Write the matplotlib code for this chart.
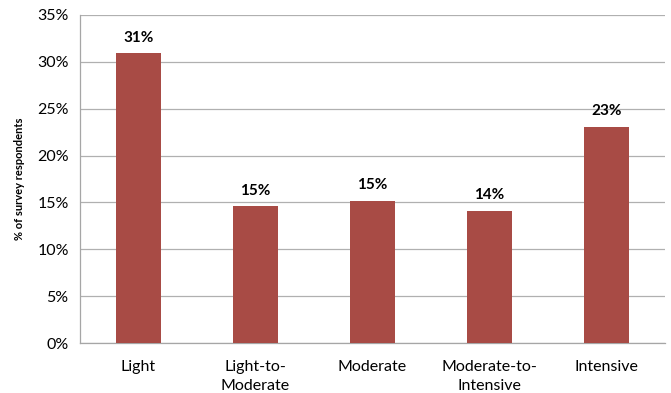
import matplotlib.pyplot as plt
from matplotlib.ticker import PercentFormatter

categories = ["Light", "Light-to-\nModerate", "Moderate", "Moderate-to-\nIntensive", "Intensive"]
shares = [30.9, 14.6, 15.2, 14.1, 23.1]

plt.rcParams['font.family'] = ['Lato', 'DejaVu Sans']

fig = plt.figure(figsize=(6.71, 3.93), dpi=100)
ax = fig.add_axes([0.119, 0.127, 0.872, 0.835])

x = range(len(categories))
ax.bar(x, shares, width=0.39, color="#a84b45", zorder=3)
for xi, v in zip(x, shares):
    ax.text(xi, v + 0.9, f"{v:.0f}%", ha="center", va="bottom",
            fontsize=11, fontweight="bold", color="black")

ax.set_xlim(-0.5, len(categories) - 0.5)
ax.set_ylim(0, 35)
ax.set_yticks(range(0, 36, 5))
ax.yaxis.set_major_formatter(PercentFormatter(decimals=0))
ax.set_xticks(list(x))
ax.set_xticklabels(categories, fontsize=11.5, va="top", linespacing=1.45)
ax.tick_params(axis="x", length=0, pad=12)
ax.tick_params(axis="y", length=0, pad=8, labelsize=11.5)
ax.grid(axis="y", color="#b0b0b0", linewidth=0.9, zorder=0)

for side in ["top", "right"]:
    ax.spines[side].set_visible(False)
for side in ["left", "bottom"]:
    ax.spines[side].set_color("#a6a6a6")
    ax.spines[side].set_linewidth(0.9)

ax.set_ylabel("% of survey respondents", fontsize=8, fontweight="bold", labelpad=9)

fig.savefig("out.png", dpi=100)
